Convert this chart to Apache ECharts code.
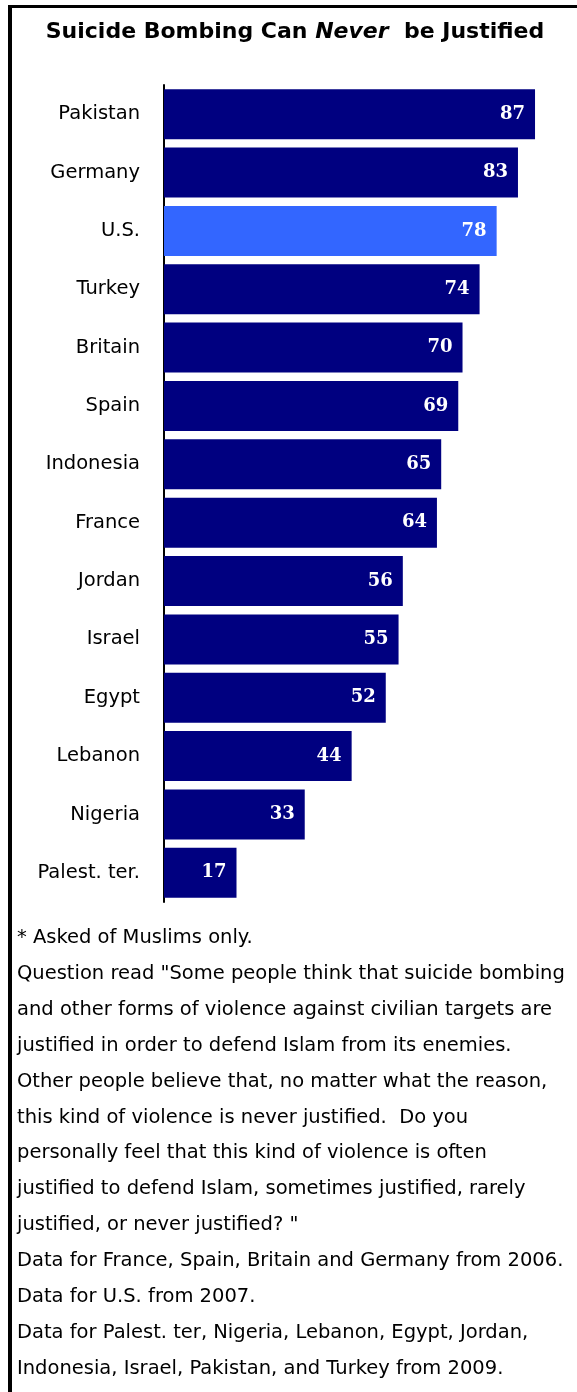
<!DOCTYPE html>
<html>
<head>
<meta charset="utf-8">
<script src="https://cdn.jsdelivr.net/npm/echarts@6/dist/echarts.min.js"></script>
<style>
html,body{margin:0;padding:0;background:#fff;}
#chart{width:577px;height:1392px;}
</style>
</head>
<body>
<div id="chart"></div>
<script>
const categories = ["Pakistan","Germany","U.S.","Turkey","Britain","Spain","Indonesia","France","Jordan","Israel","Egypt","Lebanon","Nigeria","Palest. ter."];
const values = [87,83,78,74,70,69,65,64,56,55,52,44,33,17];
const highlight = "U.S.";
const titleText = "Suicide Bombing Can {i|Never}  be Justified";
const noteLines = [
  "* Asked of Muslims only.",
  "Question read \"Some people think that suicide bombing",
  "and other forms of violence against civilian targets are",
  "justified in order to defend Islam from its enemies.",
  "Other people believe that, no matter what the reason,",
  "this kind of violence is never justified.  Do you",
  "personally feel that this kind of violence is often",
  "justified to defend Islam, sometimes justified, rarely",
  "justified, or never justified? \"",
  "Data for France, Spain, Britain and Germany from 2006.",
  "Data for U.S. from 2007.",
  "Data for Palest. ter, Nigeria, Lebanon, Egypt, Jordan,",
  "Indonesia, Israel, Pakistan, and Turkey from 2009."
];

const chart = echarts.init(document.getElementById('chart'), null, {renderer:'canvas'});
const graphics = [
  {type:'rect', shape:{x:8,y:5,width:569,height:3}, style:{fill:'#000'}},
  {type:'rect', shape:{x:8,y:5,width:4,height:1387}, style:{fill:'#000'}}
];
noteLines.forEach((t,i)=>{
  graphics.push({type:'text', x:17, y:938 + i*35.9, style:{text:t, fill:'#000', font:'19.5px "DejaVu Sans"', textVerticalAlign:'middle'}});
});
chart.setOption({
  animation:false,
  title:{
    text:titleText, left:290, top:16, textAlign:'center',
    textStyle:{fontSize:22, fontWeight:'bold', fontFamily:'"DejaVu Sans"', color:'#000',
      rich:{i:{fontSize:22, fontWeight:'bold', fontStyle:'italic', fontFamily:'"DejaVu Sans"', color:'#000'}}}
  },
  grid:{left:164, top:85, right:7, height:817, containLabel:false, outerBoundsMode:'none'},
  xAxis:{type:'value', min:0, max:95.2, show:false},
  yAxis:{type:'category', data:categories, inverse:true,
    axisLine:{show:true, lineStyle:{color:'#000', width:2}},
    axisTick:{show:false},
    axisLabel:{color:'#000', fontSize:19.5, fontFamily:'"DejaVu Sans"', margin:24}
  },
  series:[{
    type:'bar', barWidth:50,
    data: values.map((v,i)=>({value:v, itemStyle:{color: categories[i]===highlight ? '#3366FF' : '#000080'}})),
    label:{show:true, position:'insideRight', offset:[-5,0], color:'#fff', fontWeight:'bold', fontSize:18, fontFamily:'"DejaVu Serif"'}
  }],
  graphic: graphics
});
</script>
</body>
</html>
